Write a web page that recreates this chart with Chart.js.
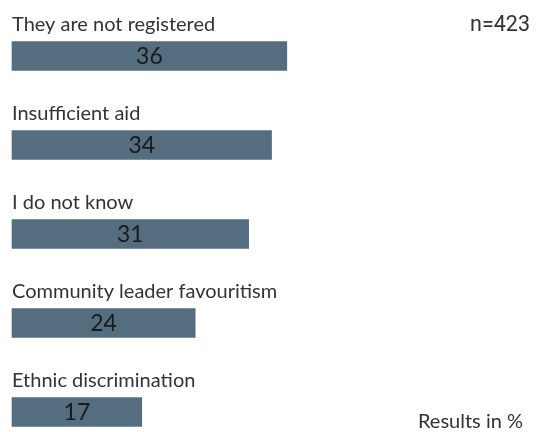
<!DOCTYPE html>
<html>
<head>
<meta charset="utf-8">
<script src="https://cdn.jsdelivr.net/npm/chart.js@4"></script>
<style>
  html, body { margin: 0; padding: 0; background: #fff; }
  #wrap { position: relative; width: 536px; height: 432px; }
</style>
</head>
<body>
<div id="wrap"><canvas id="myChart" width="536" height="432"></canvas></div>
<script>
const categories = [
  'They are not registered',
  'Insufficient aid',
  'I do not know',
  'Community leader favouritism',
  'Ethnic discrimination'
];
const values = [36, 34, 31, 24, 17];
const sampleNote = 'n=423';
const unitNote = 'Results in %';

const barColor = '#546e7f';
const textColor = '#333333';
const labelFont = '20px Lato, "Open Sans", sans-serif';

// draws category labels above bars, values inside, and the corner notes
const annotate = {
  id: 'annotate',
  afterDatasetsDraw(chart) {
    const { ctx } = chart;
    const meta = chart.getDatasetMeta(0);
    ctx.save();
    meta.data.forEach((bar, i) => {
      const top = bar.y - bar.height / 2;
      ctx.fillStyle = textColor;
      ctx.font = labelFont;
      ctx.textAlign = 'left';
      ctx.textBaseline = 'alphabetic';
      ctx.fillText(categories[i], bar.base, top - 11);

      ctx.font = '23px Lato, "Open Sans", sans-serif';
      ctx.fillStyle = '#1a1a1a';
      ctx.textAlign = 'center';
      ctx.textBaseline = 'middle';
      ctx.fillText(values[i], (bar.base + bar.x) / 2, bar.y + 1);
    });

    ctx.fillStyle = textColor;
    ctx.textBaseline = 'alphabetic';
    ctx.textAlign = 'right';
    ctx.font = '21.5px Roboto, sans-serif';
    ctx.fillText(sampleNote, 530, 31);
    ctx.font = labelFont;
    ctx.fillText(unitNote, 523, 428);
    ctx.restore();
  }
};

new Chart(document.getElementById('myChart'), {
  type: 'bar',
  data: {
    labels: categories,
    datasets: [{
      data: values,
      backgroundColor: barColor,
      barThickness: 29,
      clip: false
    }]
  },
  options: {
    indexAxis: 'y',
    responsive: false,
    animation: false,
    layout: { padding: { left: 12, right: 66, top: 56, bottom: 20 } },
    plugins: { legend: { display: false }, tooltip: { enabled: false } },
    scales: {
      x: { display: false, min: 0, max: 60 },
      y: { display: false, offset: false }
    }
  },
  plugins: [annotate]
});
</script>
</body>
</html>
